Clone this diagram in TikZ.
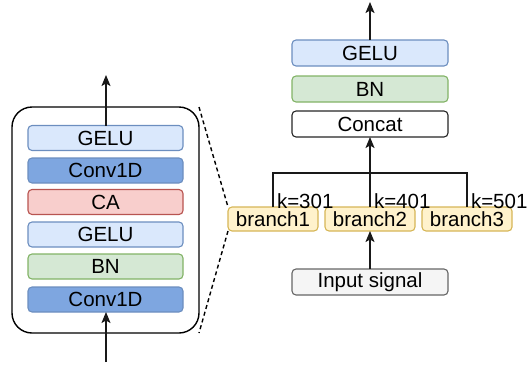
\documentclass[tikz,border=0pt]{standalone}
\usepackage{fontspec}
\setmainfont{Liberation Sans}
\usetikzlibrary{arrows.meta}
\definecolor{gelufill}{HTML}{DAE8FC}
\definecolor{gelustroke}{HTML}{6C8EBF}
\definecolor{convfill}{HTML}{7EA6E0}
\definecolor{cafill}{HTML}{F8CECC}
\definecolor{castroke}{HTML}{B85450}
\definecolor{bnfill}{HTML}{D5E8D4}
\definecolor{bnstroke}{HTML}{82B366}
\definecolor{brfill}{HTML}{FFF2CC}
\definecolor{brstroke}{HTML}{D6B656}
\definecolor{infill}{HTML}{F5F5F5}
\definecolor{instroke}{HTML}{666666}
\begin{document}
\begin{tikzpicture}[x=1pt,y=-1pt,
  every node/.style={font=\fontsize{20.5}{23}\selectfont, inner sep=0pt, outer sep=0pt},
  blk/.style={draw, rounded corners=4pt, line width=1.1pt, minimum height=25pt, anchor=center},
  wide/.style={blk, minimum width=155pt},
  geluB/.style={wide, fill=gelufill, draw=gelustroke},
  convB/.style={wide, fill=convfill, draw=gelustroke},
  caB/.style={wide, fill=cafill, draw=castroke},
  bnB/.style={wide, fill=bnfill, draw=bnstroke},
  brB/.style={blk, minimum width=90pt, minimum height=24pt, fill=brfill, draw=brstroke},
  inB/.style={wide, fill=infill, draw=instroke},
  catB/.style={wide, fill=white, draw=black!85},
  conn/.style={line width=1.5pt, draw=black!90},
  arr/.style={conn, -{Stealth[length=11pt,width=9pt,inset=2.5pt]}},
  klab/.style={anchor=south west}
]
\useasboundingbox (0,0) rectangle (527,367);

% block detail (left)
\draw[line width=1.4pt, rounded corners=20pt] (12,107) coordinate (cnw) rectangle (199,333) coordinate (cse);
\coordinate (cne) at (199,107);
\node[geluB] (g1) at (105.5,138) {GELU};
\node[convB] (c2) at (105.5,170.5) {Conv1D};
\node[caB]   (ca) at (105.5,202) {CA};
\node[geluB] (g2) at (105.5,234.5) {GELU};
\node[bnB]   (bn1) at (105.5,266.5) {BN};
\node[convB] (c1) at (105.5,299.5) {Conv1D};
\coordinate (lout) at (106,75);
\coordinate (lin) at (106,362);
\draw[arr] (g1.north -| lout) -- (lout);
\draw[arr] (lin) -- (c1.south -| lin);

% multi-branch module (right)
\node[geluB, minimum width=156pt, minimum height=26pt] (g3) at (370,53) {GELU};
\node[bnB, minimum width=156pt, minimum height=26pt] (bn2) at (370,89) {BN};
\node[catB, minimum width=156pt, minimum height=26pt] (cat) at (370,124) {Concat};
\node[brB] (b1) at (273,219) {branch1};
\node[brB] (b2) at (370,219) {branch2};
\node[brB] (b3) at (467,219) {branch3};
\node[inB, minimum width=156pt, minimum height=26pt] (inp) at (370,282) {Input signal};
\coordinate (rout) at (370,2);
\coordinate (hy) at (0,173);

\draw[arr] (g3.north) -- (rout);
\draw[conn] (b1.north) -- (b1.north |- hy) -- (b3.north |- hy) -- (b3.north);
\draw[arr] (b2.north) -- (cat.south);
\draw[arr] (inp.north) -- (b2.south);

\node[klab] at ([xshift=4pt,yshift=-2pt]b1.north) {k=301};
\node[klab] at ([xshift=4pt,yshift=-2pt]b2.north) {k=401};
\node[klab] at ([xshift=4pt,yshift=-2pt]b3.north) {k=501};

% zoom guides
\draw[line width=1.4pt, dash pattern=on 4pt off 3pt] (cne) -- (b1.north west);
\draw[line width=1.4pt, dash pattern=on 4pt off 3pt] (b1.south west) -- (cse);
\end{tikzpicture}
\end{document}
